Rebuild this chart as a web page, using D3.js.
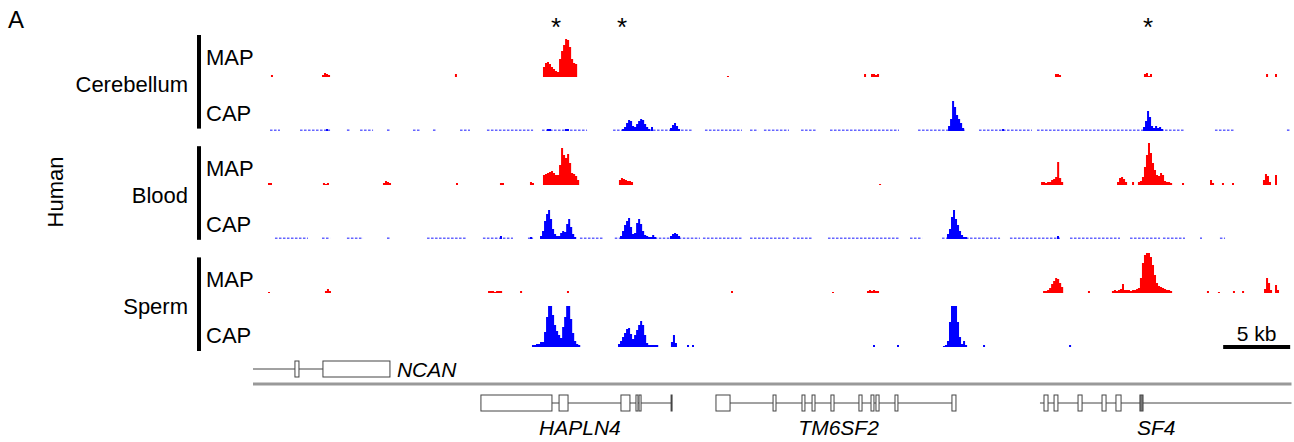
<!DOCTYPE html>
<html>
<head>
<meta charset="utf-8">
<script src="https://cdn.jsdelivr.net/npm/d3@7"></script>
<style>
  body { margin: 0; background: #fff; }
  text { font-family: "Liberation Sans", Arial, sans-serif; fill: #000; }
</style>
</head>
<body>
<div id="chart"></div>
<script>
// ---- data (positions in kb, signal in arbitrary read units) ----
const BIN = 0.15;                       // kb per signal bin
const tissues = ['Cerebellum', 'Blood', 'Sperm'];
const assays = ['MAP', 'CAP'];
const stars = [22.61, 27.54, 66.79];    // marked DMRs
const scaleBarKb = 5;

// each peak: [start kb, [bin values]]
const cbMAP = [[1.34,[2]],[5.15,[2,4,3,2]],[15.07,[3]],
  [21.64,[10,14,15,13,10,8,6,5,18,26,32,38,37,30,18,14,13]],
  [35.37,[1]],[45.60,[3]],[46.12,[3,3,2,3]],[59.85,[3,3,2]],[66.49,[3,4,1,3]],[75.60,[3]],[76.27,[3]]];
const cbCAP = [[5.45,[2]],[21.94,[2,2]],[23.28,[2,2]],
  [27.54,[2,4,8,11,10,5,4,7,10,12,11,7,4,2]],[29.70,[4]],[31.12,[3,6,8,5,2]],
  [51.87,[5,12,30,24,16,12,8,3]],[55.90,[2]],
  [66.42,[4,10,20,14,5,3,5,3,4,2]]];
const blMAP = [[1.12,[2,2]],[5.22,[2,1,2]],[9.70,[2,4,3,2]],[15.15,[2]],[18.43,[2,2]],[20.67,[3,2]],
  [21.64,[10,11,12,13,14,12,10,10,20,37,30,27,31,22,12,11,9,5]],
  [27.31,[5,7,6,5,4,4,3]],[46.72,[1]],
  [58.81,[3,3,2,3,3,5,6,8,23,7,3]],[64.48,[3,7,8,6,3]],[65.60,[3]],
  [66.04,[3,4,8,18,30,42,32,22,15,10,9,12,10,4,3,3,2]],
  [69.33,[2]],[71.42,[5,2]],[72.31,[2]],[73.06,[2]],[75.37,[5,11,9,3]],[76.27,[10]]];
const blCAP = [[18.43,[3]],[20.67,[2]],
  [21.42,[3,8,18,25,29,20,10,5,3,3,6,8,7,15,20,12,5,2]],
  [27.39,[3,8,14,18,21,12,5,6,16,20,15,8,4,3,2,2,4,2]],
  [31.12,[3,5,6,5,3]],[51.79,[5,10,22,29,20,14,8,4,2,2]],[60.0,[3]]];
const spMAP = [[1.12,[1]],[5.37,[2,4,2]],[17.54,[2,2,2,1,2,2,2]],[19.93,[2]],[23.43,[2]],
  [35.67,[2]],[43.21,[1]],[45.82,[2,3,2,3,2,2]],
  [58.96,[2,2,3,5,9,12,15,14,10,6]],[62.31,[2]],
  [64.10,[2,3,2,3,4,9,3,3,3,2,3,3,4]],
  [66.04,[5,15,30,38,40,40,36,28,18,10,7,6,5,4,3,3,2]],
  [71.19,[2]],[72.01,[1]],[73.13,[2]],[73.81,[2]],[75.45,[4,15,10,3]],[76.27,[8,3]]];
const spCAP = [[20.82,[2,2,3,3,5,5,15,30,41,41,32,22,16,12,9,20,30,41,41,28,14,6,3,2]],
  [27.24,[3,6,10,14,18,19,13,8,12,17,22,26,22,12,4,2,2,2,2,2]],
  [31.19,[5,12,4]],[32.39,[2]],[32.76,[2]],[46.27,[2]],[48.06,[2]],
  [51.49,[1,2,6,25,41,41,41,25,10,3,6,2]],[54.48,[2]],[60.90,[2]]];

// low-level background reads, [start kb, end kb]
const cbNoise = [[1.27,2.01],[3.51,5.75],[7.01,7.24],[7.99,8.96],[10.0,10.22],[11.94,12.46],[13.43,13.66],
  [15.45,16.19],[17.46,20.90],[21.57,24.93],[26.87,32.84],[33.73,36.49],[37.09,37.69],[38.13,40.0],
  [40.9,42.09],[43.06,48.21],[49.63,53.13],[54.18,58.13],[58.51,69.48],[71.79,73.28],[77.16,77.39]];
const blNoise = [[1.64,4.10],[5.15,5.75],[7.01,8.21],[10.0,10.22],[12.99,15.97],[17.16,19.40],[20.52,20.90],
  [24.40,26.12],[27.0,33.36],[33.58,36.49],[37.09,40.07],[40.30,41.79],[42.91,48.21],[49.03,49.93],
  [51.42,55.75],[56.49,60.22],[60.97,64.70],[65.45,67.69],[67.91,69.55],[70.67,70.82],[72.16,72.54]];

// gene models
const geneNames = ['NCAN', 'HAPLN4', 'TM6SF2', 'SF4'];
const geneRows  = [0, 1, 1, 1];
const geneSpans = [[0, 5.22], [17.01, 31.27], [34.55, 52.46], [58.73, 77.5]];
const geneExons = [
  [[3.13,3.43],[5.22,10.22]],
  [[17.01,22.31],[22.84,23.51],[27.46,28.13],[28.58,28.73],[28.81,28.96],[31.2,31.27]],
  [[34.55,35.60],[38.81,39.03],[40.97,41.19],[41.72,41.94],[43.13,43.36],[45.22,45.45],
   [46.12,46.34],[46.49,46.72],[47.91,48.13],[52.16,52.46]],
  [[59.03,59.33],[59.78,60.07],[61.57,61.87],[63.36,63.66],[64.40,64.78],[66.19,66.42]]
];
const geneFilledExon = [[], [], [], [5]];
const geneLabelAt = [null, 24.4, 43.7, 67.4];

const signals = {
  'Cerebellum MAP': cbMAP, 'Cerebellum CAP': cbCAP,
  'Blood MAP': blMAP, 'Blood CAP': blCAP,
  'Sperm MAP': spMAP, 'Sperm CAP': spCAP
};
const noise = { 'Cerebellum CAP': cbNoise, 'Blood CAP': blNoise };
const colors = { MAP: '#ff0000', CAP: '#0000ff' };

// ---- drawing ----
const width = 1294, height = 442;
const svg = d3.select('#chart').append('svg')
  .attr('width', width).attr('height', height);

const x = d3.scaleLinear().domain([0, 77.5]).range([253, 1291.5]);
const trackIds = tissues.flatMap(t => assays.map(a => t + ' ' + a));
const yTrack = d3.scalePoint().domain(trackIds).range([77, 347]);   // baselines
const yLabel = d3.scalePoint().domain(trackIds).range([65, 343]);   // label baselines
const h = d3.scaleLinear().domain([0, 42]).range([0, 42]);

// panel letter + species
svg.append('text').attr('x', 8).attr('y', 28).attr('font-size', 24).text('A');
svg.append('text').attr('transform', 'translate(63,192) rotate(-90)')
  .attr('text-anchor', 'middle').attr('font-size', 22).text('Human');

// tissue brackets and labels
tissues.forEach(t => {
  const top = yLabel(t + ' MAP') - 30, bot = yLabel(t + ' CAP') + 8;
  svg.append('rect').attr('x', 197).attr('y', top).attr('width', 4).attr('height', bot - top).attr('fill', '#000');
  svg.append('text').attr('x', 188).attr('y', (yLabel(t + ' MAP') + yLabel(t + ' CAP')) / 2 - 1)
    .attr('text-anchor', 'end').attr('font-size', 22).text(t);
  assays.forEach(a => {
    svg.append('text').attr('x', 206).attr('y', yLabel(t + ' ' + a))
      .attr('font-size', 22).text(a);
  });
});

// stars
svg.selectAll('.star').data(stars).join('text').attr('class', 'star')
  .attr('x', d => x(d)).attr('y', 36).attr('text-anchor', 'middle')
  .attr('font-size', 26).text('*');

// background reads
const tracks = svg.append('g');
Object.keys(noise).forEach(id => {
  const assay = id.split(' ')[1];
  tracks.selectAll(null).data(noise[id]).join('line')
    .attr('x1', d => x(d[0])).attr('x2', d => x(d[1]))
    .attr('y1', yTrack(id) - 0.8).attr('y2', yTrack(id) - 0.8)
    .attr('stroke', colors[assay]).attr('stroke-width', 1.6)
    .attr('stroke-dasharray', '2.5,1.5').attr('opacity', 0.6);
});

// signal peaks
trackIds.forEach(id => {
  const assay = id.split(' ')[1];
  const base = yTrack(id);
  const area = d3.area().curve(d3.curveStepAfter)
    .x(d => x(d[0])).y0(base).y1(d => base - h(d[1]));
  tracks.selectAll(null).data(signals[id]).join('path')
    .attr('d', ([s, vals]) => {
      const pts = vals.map((v, i) => [s + i * BIN, v]);
      pts.push([s + vals.length * BIN, vals[vals.length - 1]]);
      return area(pts);
    })
    .attr('fill', colors[assay]);
});

// scale bar
const sbEnd = x.domain()[1] - 0.1, sbStart = sbEnd - scaleBarKb;
svg.append('rect').attr('x', x(sbStart)).attr('y', 345).attr('width', x(sbEnd) - x(sbStart))
  .attr('height', 4).attr('fill', '#000');
svg.append('text').attr('x', (x(sbStart) + x(sbEnd)) / 2).attr('y', 341)
  .attr('text-anchor', 'middle').attr('font-size', 21).text(scaleBarKb + ' kb');

// gene track
const rowY = d3.scalePoint().domain([0, 1]).range([369, 403]);
svg.append('line').attr('x1', x(0)).attr('x2', x(77.5)).attr('y1', 384).attr('y2', 384)
  .attr('stroke', '#999').attr('stroke-width', 3);

const gg = svg.append('g');
geneNames.forEach((name, gi) => {
  const cy = rowY(geneRows[gi]);
  const [s, e] = geneSpans[gi];
  gg.append('line').attr('x1', x(s)).attr('x2', x(e)).attr('y1', cy).attr('y2', cy)
    .attr('stroke', '#444').attr('stroke-width', 1);
  gg.selectAll(null).data(geneExons[gi]).join('rect')
    .attr('x', d => x(d[0])).attr('y', cy - 8)
    .attr('width', d => Math.max(1, x(d[1]) - x(d[0]))).attr('height', 16)
    .attr('fill', (d, i) => geneFilledExon[gi].includes(i) ? '#777' : '#fff')
    .attr('stroke', '#444').attr('stroke-width', 1);
  const lbl = gg.append('text').attr('font-size', 21).attr('font-style', 'italic').text(name);
  if (geneLabelAt[gi] === null) {
    lbl.attr('x', x(geneExons[gi][geneExons[gi].length - 1][1]) + 7).attr('y', cy + 8);
  } else {
    lbl.attr('x', x(geneLabelAt[gi])).attr('y', cy + 32).attr('text-anchor', 'middle');
  }
});
</script>
</body>
</html>
